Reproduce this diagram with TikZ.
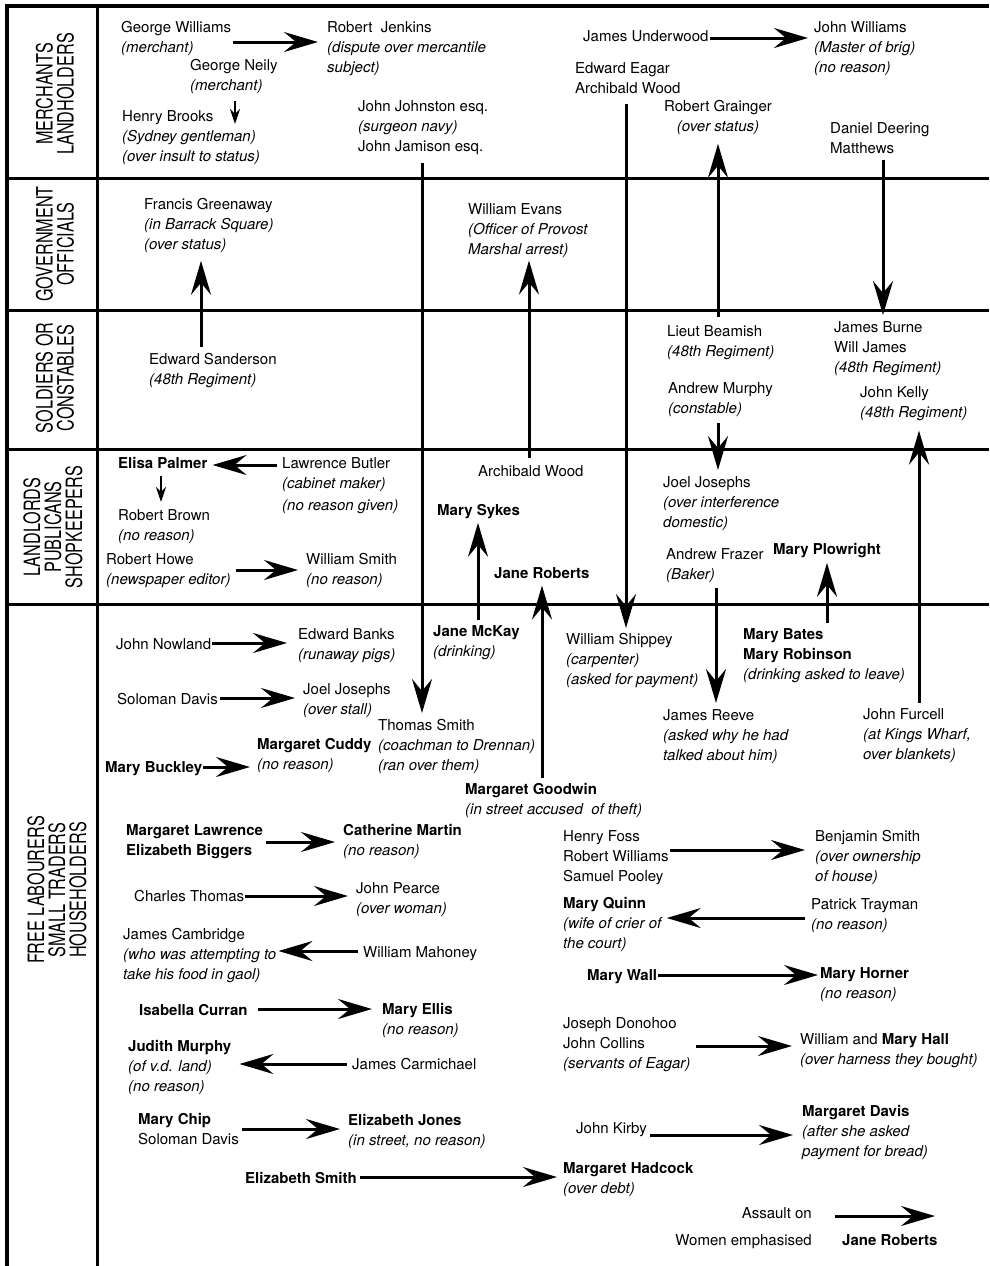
\documentclass[tikz,border=0pt]{standalone}
\usepackage{fontspec}
\setmainfont{TeX Gyre Heros}
\newfontfamily\rowfont[FakeStretch=0.72]{TeX Gyre Heros}
\usetikzlibrary{arrows.meta}

\begin{document}
\begin{tikzpicture}[x=1pt, y=-1pt,
            frame/.style={line width=4.5pt, line join=miter},
            grid/.style={line width=3pt},
            rowlabel/.style={rotate=90, align=center, inner sep=0pt, font=\rowfont\fontsize{22.5}{21}\selectfont},
            person/.style={anchor=north west, align=left, inner sep=0pt, font=\fontsize{15}{20}\selectfont},
            assault/.style={line width=3pt, -{Stealth[length=34pt, width=20pt, inset=12pt]}},
            smallassault/.style={line width=2.2pt, -{Stealth[length=15pt, width=10pt, inset=5pt]}}
        ]
            \useasboundingbox (0,0) rectangle (989,1266);

            % frame and rows
            \draw[frame] (7,1266) -- (7,6) -- (989,6);
            \draw[grid] (97,6) -- (97,1266);
            \foreach \y in {178, 310, 449, 604}{
                \draw[grid] (7,\y) -- (989,\y);
            }

            % row labels
            \node[rowlabel] (merchants) at (55,94) {MERCHANTS\\LANDHOLDERS};
            \node[rowlabel] (officials) at (55,244) {GOVERNMENT\\OFFICIALS};
            \node[rowlabel] (soldiers) at (55,378) {SOLDIERS OR\\CONSTABLES};
            \node[rowlabel] (landlords) at (53,527) {LANDLORDS\\PUBLICANS\\SHOPKEEPERS};
            \node[rowlabel] (labourers) at (57,890) {FREE LABOURERS\\SMALL TRADERS\\HOUSEHOLDERS};

            % merchants, landholders
            \node[person] (gwilliams) at (121,21) {George Williams\\\textit{(merchant)}};
            \node[person] (rjenkins) at (327,21) {Robert~ Jenkins\\\textit{(dispute over mercantile}\\\textit{subject)}};
            \node[person] (neily) at (190,59) {George Neily\\\textit{(merchant)}};
            \node[person] (brooks) at (122,110) {Henry Brooks\\\textit{(Sydney gentleman)}\\\textit{(over insult to status)}};
            \node[person] (johnston) at (358,100) {John Johnston esq.\\\textit{(surgeon navy)}\\John Jamison esq.};
            \node[person] (underwood) at (583,30) {James Underwood};
            \node[person] (jwilliams) at (814,21) {John Williams\\\textit{(Master of brig)}\\\textit{(no reason)}};
            \node[person] (eagar) at (575,62) {Edward Eagar\\Archibald Wood};
            \node[person, anchor=north, align=center] (grainger) at (718,100) {Robert Grainger\\\textit{(over status)}};
            \node[person] (matthews) at (830,122) {Daniel Deering\\Matthews};

            % government officials
            \node[person] (greenaway) at (144,198) {Francis Greenaway\\\textit{(in Barrack Square)}\\\textit{(over status)}};
            \node[person] (wevans) at (468,203) {William Evans\\\textit{(Officer of Provost}\\\textit{Marshal arrest)}};

            % soldiers, constables
            \node[person] (sanderson) at (149,353) {Edward Sanderson\\\textit{(48th Regiment)}};
            \node[person] (beamish) at (667,325) {Lieut Beamish\\\textit{(48th Regiment)}};
            \node[person] (amurphy) at (668,382) {Andrew Murphy\\\textit{(constable)}};
            \node[person] (burne) at (834,321) {James Burne\\Will James\\\textit{(48th Regiment)}};
            \node[person] (kelly) at (860,386) {John Kelly\\\textit{(48th Regiment)}};

            % landlords, publicans, shopkeepers
            \node[person] (palmer) at (118,457) {\textbf{Elisa Palmer}};
            \node[person] (butler) at (282,457) {Lawrence Butler\\\textit{(cabinet maker)}\\[2pt]\textit{(no reason given)}};
            \node[person] (rbrown) at (118,509) {Robert Brown\\\textit{(no reason)}};
            \node[person] (rhowe) at (106,553) {Robert Howe\\\textit{(newspaper editor)}};
            \node[person] (wsmith) at (306,553) {William Smith\\\textit{(no reason)}};
            \node[person] (awood) at (478,465) {Archibald Wood};
            \node[person] (sykes) at (437,504) {\textbf{Mary Sykes}};
            \node[person] (jroberts) at (494,567) {\textbf{Jane Roberts}};
            \node[person] (jjosephs) at (663,476) {Joel Josephs\\\textit{(over interference}\\\textit{domestic)}};
            \node[person] (frazer) at (666,548) {Andrew Frazer\\\textit{(Baker)}};
            \node[person] (plowright) at (773,543) {\textbf{Mary Plowright}};

            % free labourers, small traders, householders
            \node[person] (nowland) at (116,638) {John Nowland};
            \node[person] (ebanks) at (298,628) {Edward Banks\\\textit{(runaway pigs)}};
            \node[person] (sdavis) at (117,693) {Soloman Davis};
            \node[person] (jjosephsb) at (303,683) {Joel Josephs\\\textit{(over stall)}};
            \node[person] (tsmith) at (378,719) {Thomas Smith\\\textit{(coachman to Drennan)}\\\textit{(ran over them)}};
            \node[person] (buckley) at (105,761) {\textbf{Mary Buckley}};
            \node[person] (cuddy) at (257,738) {\textbf{Margaret Cuddy}\\\textit{(no reason)}};
            \node[person] (mckay) at (433,625) {\textbf{Jane McKay}\\\textit{(drinking)}};
            \node[person] (goodwin) at (465,783) {\textbf{Margaret Goodwin}\\\textit{(in street accused~ of theft)}};
            \node[person] (shippey) at (566,633) {William Shippey\\\textit{(carpenter)}\\\textit{(asked for payment)}};
            \node[person] (mbates) at (743,628) {\textbf{Mary Bates}\\\textbf{Mary Robinson}\\\textit{(drinking asked to leave)}};
            \node[person] (jreeve) at (663,709) {James Reeve\\\textit{(asked why he had}\\\textit{talked about him)}};
            \node[person] (furcell) at (863,708) {John Furcell\\\textit{(at Kings Wharf,}\\\textit{over blankets)}};

            \node[person] (mlawrence) at (126,824) {\textbf{Margaret Lawrence}\\\textbf{Elizabeth Biggers}};
            \node[person] (cmartin) at (343,824) {\textbf{Catherine Martin}\\\textit{(no reason)}};
            \node[person] (cthomas) at (134,890) {Charles Thomas};
            \node[person] (jpearce) at (356,882) {John Pearce\\\textit{(over woman)}};
            \node[person] (cambridge) at (123,928) {James Cambridge\\\textit{(who was attempting to}\\\textit{take his food in gaol)}};
            \node[person] (mahoney) at (363,946) {William Mahoney};
            \node[person] (curran) at (139,1004) {\textbf{Isabella Curran}};
            \node[person] (mellis) at (382,1003) {\textbf{Mary Ellis}\\\textit{(no reason)}};
            \node[person] (jmurphy) at (128,1040) {\textbf{Judith Murphy}\\\textit{(of v.d. land)}\\\textit{(no reason)}};
            \node[person] (carmichael) at (352,1058) {James Carmichael};
            \node[person] (mchip) at (138,1113) {\textbf{Mary Chip}\\Soloman Davis};
            \node[person] (ejones) at (348,1114) {\textbf{Elizabeth Jones}\\\textit{(in street, no reason)}};
            \node[person] (esmith) at (245,1172) {\textbf{Elizabeth Smith}};

            \node[person] (foss) at (563,830) {Henry Foss\\Robert Williams\\Samuel Pooley};
            \node[person] (bsmith) at (815,830) {Benjamin Smith\\\textit{(over ownership}\\\textit{of house)}};
            \node[person] (mquinn) at (563,897) {\textbf{Mary Quinn}\\\textit{(wife of crier of}\\\textit{the court)}};
            \node[person] (trayman) at (811,898) {Patrick Trayman\\\textit{(no reason)}};
            \node[person] (mwall) at (587,969) {\textbf{Mary Wall}};
            \node[person] (horner) at (820,967) {\textbf{Mary Horner}\\\textit{(no reason)}};
            \node[person] (donohoo) at (563,1017) {Joseph Donohoo\\John Collins\\\textit{(servants of Eagar)}};
            \node[person] (mhall) at (800,1033) {William and \textbf{Mary Hall}\\\textit{(over harness they bought)}};
            \node[person] (kirby) at (576,1122) {John Kirby};
            \node[person] (mdavis) at (802,1105) {\textbf{Margaret Davis}\\\textit{(after she asked}\\\textit{payment for bread)}};
            \node[person] (hadcock) at (563,1162) {\textbf{Margaret Hadcock}\\\textit{(over debt)}};

            % key
            \node[person, anchor=north east, align=right] (keytext) at (812,1207) {Assault on\\[7pt]Women emphasised};
            \node[person] (keyname) at (842,1234) {\textbf{Jane Roberts}};
            \coordinate (keyfrom) at (835,1216);
            \coordinate (keyto) at (935,1216);
            \draw[assault] (keyfrom) -- (keyto);

            % assaults across the rows
            \draw[assault] ([yshift=-8pt]johnston.south -| 422,0) -- ([yshift=6pt]tsmith.north -| 422,0);
            \draw[assault] ([yshift=-10pt]eagar.south -| 626,0) -- ([yshift=5pt]shippey.north -| 626,0);
            \draw[assault] ([yshift=8pt]beamish.north -| 718,0) -- ([yshift=-9pt]grainger.south -| 718,0);
            \draw[assault] ([yshift=-6pt]matthews.south -| 883,0) -- ([yshift=6pt]burne.north -| 883,0);
            \draw[assault] ([yshift=7pt]awood.north -| 529,0) -- ([yshift=-3pt]wevans.south -| 529,0);
            \draw[assault] ([yshift=6pt]sanderson.north -| 201,0) -- ([yshift=-8pt]greenaway.south -| 201,0);
            \draw[assault] ([yshift=-6pt]amurphy.south -| 718,0) -- ([yshift=6pt]jjosephs.north -| 718,0);
            \draw[assault] ([yshift=5pt]furcell.north -| 919,0) -- ([yshift=-10pt]kelly.south -| 919,0);
            \draw[assault] ([yshift=5pt]mbates.north -| 827,0) -- ([yshift=-5pt]plowright.south -| 827,0);
            \draw[assault] ([yshift=-5pt]frazer.south -| 716,0) -- ([yshift=6pt]jreeve.north -| 716,0);
            \draw[assault] ([yshift=5pt]goodwin.north -| 542,0) -- ([yshift=-7pt]jroberts.south -| 542,0);
            \draw[assault] ([yshift=5pt]mckay.north -| 478,0) -- ([yshift=-4pt]sykes.south -| 478,0);
            \draw[smallassault] ([yshift=-7pt]neily.south -| 235,0) -- ([yshift=-14pt]brooks.north -| 235,0);
            \draw[smallassault] ([yshift=-7pt]palmer.south -| 161,0) -- ([yshift=7pt]rbrown.north -| 161,0);

            % assaults within a row
            \draw[assault] ([xshift=2pt]gwilliams.east |- 0,42) -- ([xshift=-9pt]rjenkins.west |- 0,42);
            \draw[assault] ([xshift=1pt]underwood.east |- 0,38) -- ([xshift=-6pt]jwilliams.west |- 0,38);
            \draw[assault] ([xshift=-5pt]butler.west |- 0,465) -- ([xshift=5pt]palmer.east |- 0,465);
            \draw[assault] ([xshift=5pt]rhowe.east |- 0,570) -- ([xshift=-8pt]wsmith.west |- 0,570);
            \draw[assault] ([xshift=1pt]nowland.east |- 0,643) -- ([xshift=-11pt]ebanks.west |- 0,643);
            \draw[assault] ([xshift=2pt]sdavis.east |- 0,698) -- ([xshift=-8pt]jjosephsb.west |- 0,698);
            \draw[assault] ([xshift=1pt]buckley.east |- 0,767) -- ([xshift=-7pt]cuddy.west |- 0,767);
            \draw[assault] ([xshift=3pt]mlawrence.east |- 0,842) -- ([xshift=-8pt]cmartin.west |- 0,842);
            \draw[assault] ([xshift=1pt]cthomas.east |- 0,896) -- ([xshift=-8pt]jpearce.west |- 0,896);
            \draw[assault] ([xshift=-5pt]mahoney.west |- 0,951) -- ([xshift=2pt]cambridge.east |- 0,951);
            \draw[assault] ([xshift=10pt]curran.east |- 0,1009) -- ([xshift=-10pt]mellis.west |- 0,1009);
            \draw[assault] ([xshift=-5pt]carmichael.west |- 0,1064) -- ([xshift=8pt]jmurphy.east |- 0,1064);
            \draw[assault] ([xshift=3pt]mchip.east |- 0,1129) -- ([xshift=-8pt]ejones.west |- 0,1129);
            \draw[assault] ([xshift=3pt]esmith.east |- 0,1177) -- ([xshift=-6pt]hadcock.west |- 0,1177);
            \draw[assault] ([xshift=1pt]foss.east |- 0,850) -- ([xshift=-10pt]bsmith.west |- 0,850);
            \draw[assault] ([xshift=-6pt]trayman.west |- 0,918) -- ([xshift=4pt]mquinn.east |- 0,918);
            \draw[assault] ([xshift=1pt]mwall.east |- 0,975) -- ([xshift=-2pt]horner.west |- 0,975);
            \draw[assault] ([xshift=5pt]donohoo.east |- 0,1046) -- ([xshift=-8pt]mhall.west |- 0,1046);
            \draw[assault] ([xshift=3pt]kirby.east |- 0,1135) -- ([xshift=-9pt]mdavis.west |- 0,1135);

        \end{tikzpicture}
\end{document}
